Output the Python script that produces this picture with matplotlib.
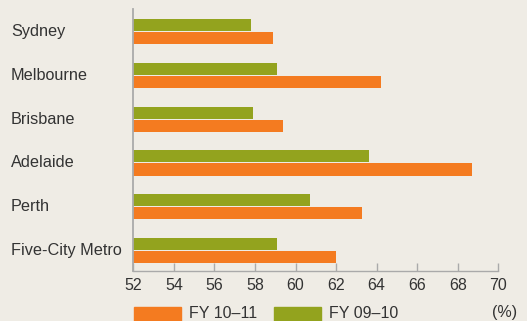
import matplotlib
matplotlib.use("Agg")
import matplotlib.pyplot as plt
from matplotlib.patches import Rectangle
import numpy as np

plt.rcParams['font.family'] = ['Liberation Sans', 'DejaVu Sans']

cities = ["Sydney", "Melbourne", "Brisbane", "Adelaide", "Perth", "Five-City Metro"]
fy_10_11 = [58.9, 64.2, 59.4, 68.7, 63.3, 62.0]
fy_09_10 = [57.8, 59.1, 57.9, 63.6, 60.7, 59.1]
series_labels = ["FY 10\u201311", "FY 09\u201310"]
xticks = [52, 54, 56, 58, 60, 62, 64, 66, 68, 70]

bg = "#efece5"
orange = "#f47b20"
green = "#93a31e"
txt = "#333333"
grey = "#aaaaaa"

fig = plt.figure(figsize=(5.27, 3.21), dpi=100, facecolor=bg)
ax = fig.add_axes([133.3/527, 1-271/321, 365/527, 262/321])
ax.set_facecolor(bg)

y = np.arange(len(cities))
h = 0.275
gap = 0.012
ax.barh(y - gap - h/2, np.array(fy_09_10) - 52, left=52, height=h, color=green)
ax.barh(y + gap + h/2, np.array(fy_10_11) - 52, left=52, height=h, color=orange)

ax.set_xlim(52, 70)
ax.set_ylim(5.47, -0.52)
ax.set_xticks(xticks)
ax.set_xticklabels([str(t) for t in xticks], fontsize=11.5, color=txt)
ax.tick_params(axis='x', direction='in', length=6, width=1, color=grey, pad=5)
ax.set_yticks([])
for s in ['top', 'right']:
    ax.spines[s].set_visible(False)
ax.spines['left'].set_color(grey)
ax.spines['left'].set_linewidth(1.3)
ax.spines['bottom'].set_color(grey)
ax.spines['bottom'].set_linewidth(1)

# city labels, left aligned
for yi, name in zip(y, cities):
    fx = 11/527
    fy = 1 - (31.8 + yi*43.7)/321
    fig.text(fx, fy, name, ha='left', va='center', fontsize=11.7, color=txt)

# legend
leg_colors = [orange, green]
leg_x = [134, 274]
for lx, c, lab in zip(leg_x, leg_colors, series_labels):
    fig.add_artist(Rectangle((lx/527, 0), 47/527, (321-306.5)/321,
                             transform=fig.transFigure, color=c))
    fig.text((lx + 55)/527, 1 - 313/321, lab, ha='left', va='center',
             fontsize=11.5, color=txt)
fig.text(517/527, 1 - 313/321, "(%)", ha='right', va='center', fontsize=11.5, color=txt)

fig.savefig("out.png", dpi=100, facecolor=bg)
